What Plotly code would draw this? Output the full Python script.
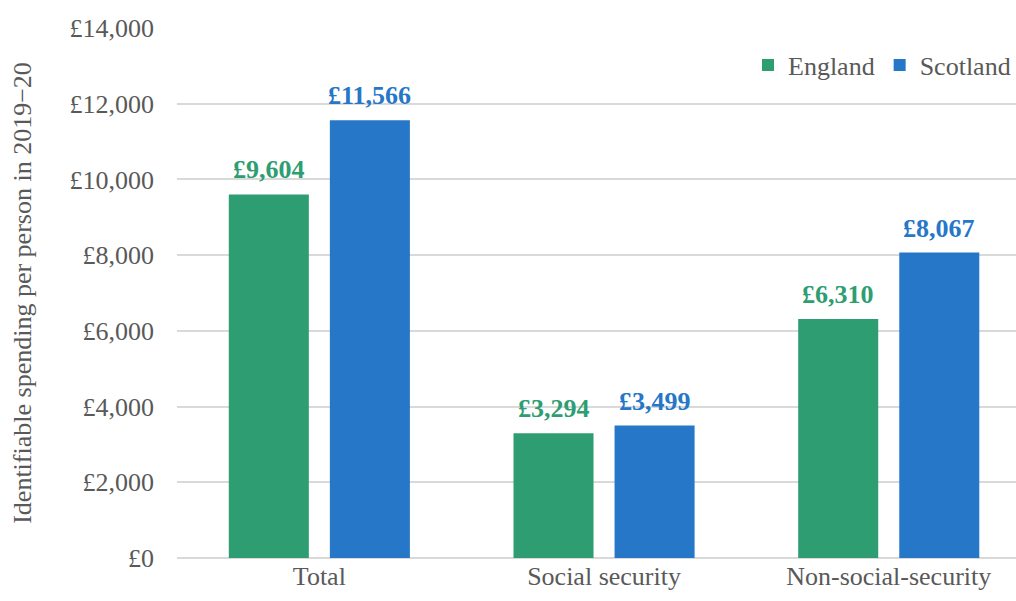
import plotly.graph_objects as go

# Identifiable spending per person, 2019-20 (£)
categories = ["Total", "Social security", "Non-social-security"]
england = [9604, 3294, 6310]
scotland = [11566, 3499, 8067]
y_ticks = [0, 2000, 4000, 6000, 8000, 10000, 12000, 14000]
y_tick_text = ["£0", "£2,000", "£4,000", "£6,000", "£8,000", "£10,000", "£12,000", "£14,000"]

GREEN = "#2E9E72"
BLUE = "#2677C8"
GREY_TEXT = "#595959"
FONT = "Times New Roman, Liberation Serif, DejaVu Serif, serif"

series = [("England", england, GREEN, -50.5), ("Scotland", scotland, BLUE, 50.5)]

fig = go.Figure()
for name, vals, col, _ in series:
    fig.add_trace(go.Bar(
        name=name,
        x=categories,
        y=vals,
        marker=dict(color=col, line=dict(width=0)),
    ))

# Bold value labels above each bar, shifted onto the bar's slot in the group
for name, vals, col, dx in series:
    for cat, v in zip(categories, vals):
        fig.add_annotation(
            x=cat, y=v, xref="x", yref="y",
            text=f"<b>£{v:,}</b>",
            showarrow=False,
            xanchor="center", yanchor="bottom",
            xshift=dx, yshift=8,
            font=dict(family=FONT, size=26, color=col),
        )

fig.update_layout(
    width=1016,
    height=601,
    margin=dict(l=177, r=0, t=28, b=43),
    paper_bgcolor="white",
    plot_bgcolor="white",
    font=dict(family=FONT, size=26, color=GREY_TEXT),
    barmode="group",
    bargap=0.29,
    bargroupgap=0.208,
    showlegend=True,
    legend=dict(
        orientation="h",
        x=1.0, xanchor="right",
        y=0.93, yanchor="middle",
        font=dict(family=FONT, size=26, color=GREY_TEXT),
        bgcolor="rgba(0,0,0,0)",
        itemwidth=30,
        traceorder="normal",
    ),
)

fig.update_xaxes(
    range=[-0.5, 2.447],
    showgrid=False,
    showline=False,
    ticks="",
    tickfont=dict(family=FONT, size=26, color=GREY_TEXT),
)

fig.update_yaxes(
    range=[0, 14000],
    tickvals=y_ticks,
    ticktext=y_tick_text,
    showgrid=True,
    gridcolor="#D9D9D9",
    gridwidth=1.5,
    zeroline=True,
    zerolinecolor="#D9D9D9",
    zerolinewidth=1.5,
    showline=False,
    ticks="",
    ticklabelstandoff=22,
    tickfont=dict(family=FONT, size=26, color=GREY_TEXT),
    title=dict(
        text="Identifiable spending per person in 2019−20",
        font=dict(family=FONT, size=26, color=GREY_TEXT),
        standoff=30,
    ),
)

fig.write_html("out.html")
